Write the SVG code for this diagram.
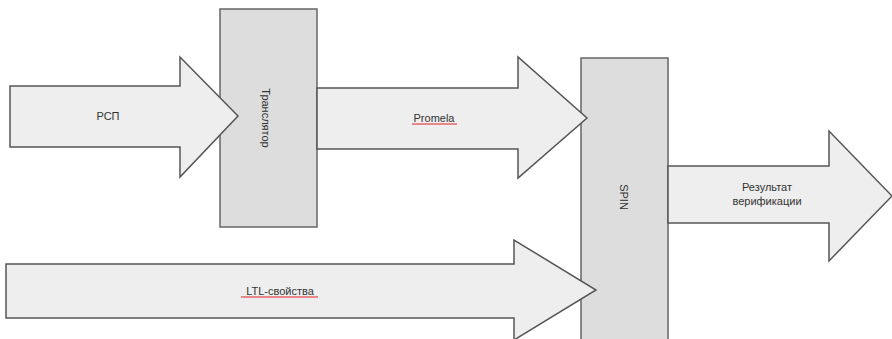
<svg xmlns="http://www.w3.org/2000/svg" width="892" height="339" viewBox="0 0 892 339">
<style>
.box{fill:#dddddd;stroke:#666666;stroke-width:1.5}
.arrow{fill:#eeeeee;stroke:#555555;stroke-width:1.5;stroke-linejoin:miter}
.lbl{font-family:"Liberation Sans",Arial,sans-serif;font-size:11px;fill:#333333;text-anchor:middle;dominant-baseline:central}
.spell{stroke:#e02020;stroke-width:1.2}
</style>
<rect width="892" height="339" fill="#ffffff"/>
<g id="translator">
<rect class="box" x="220" y="9" width="97" height="218"/>
<text class="lbl" font-size="12" transform="translate(266,118) rotate(90)">Транслятор</text>
</g>
<g id="spin">
<rect class="box" x="581" y="58" width="87" height="290"/>
<text class="lbl" transform="translate(624,197) rotate(90)">SPIN</text>
</g>
<g id="connectors">
<g id="arrow-rsp">
<polygon class="arrow" points="10,86 180,86 180,57 238,116 180,177 180,147 10,147"/>
<text class="lbl" x="108" y="116">РСП</text>
</g>
<g id="arrow-promela">
<polygon class="arrow" points="317,88 518,88 518,57 587,118 518,178 518,149 317,149"/>
<text class="lbl" x="434" y="118">Promela</text>
<line class="spell" x1="412" y1="124" x2="457" y2="124"/>
</g>
<g id="arrow-ltl">
<polygon class="arrow" points="6,264 514,264 514,240 596,290 514,340 514,318 6,318"/>
<text class="lbl" x="280" y="291">LTL-свойства</text>
<line class="spell" x1="241" y1="297" x2="318" y2="297"/>
</g>
<g id="arrow-result">
<polygon class="arrow" points="668,166 829,166 829,131 892,196 829,261 829,223 668,223"/>
<text class="lbl" x="767" y="187">Результат</text>
<text class="lbl" x="767" y="201">верификации</text>
</g>
</g>
</svg>
